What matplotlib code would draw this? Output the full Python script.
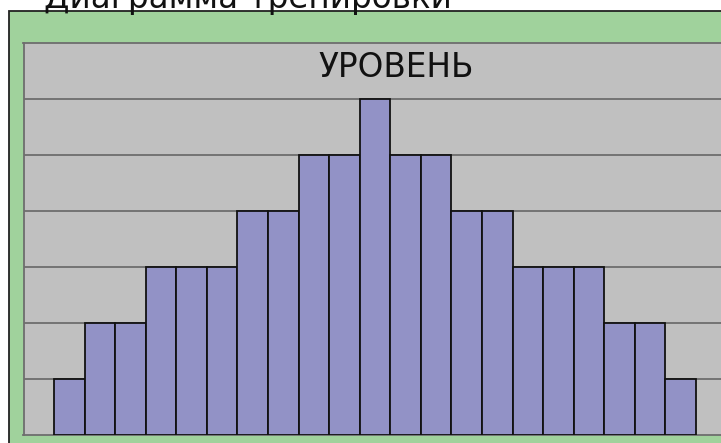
import numpy as np
import matplotlib.pyplot as plt
from matplotlib.patches import Rectangle

# Данные диаграммы
title = "Диаграмма тренировки"
label = "УРОВЕНЬ"
levels = [1, 2, 2, 3, 3, 3, 4, 4, 5, 5, 6, 5, 5, 4, 4, 3, 3, 3, 2, 2, 1]
ymax = 7

W, H = 721, 443
fig = plt.figure(figsize=(W / 100, H / 100), dpi=100)
fig.patch.set_facecolor('white')

# Зелёная рамка (уходит за правый и нижний край)
frame = Rectangle((8.5 / W, -0.1), 1.2, 1 - 11 / H + 0.1,
                  transform=fig.transFigure, facecolor='#a0d29c',
                  edgecolor='#222222', linewidth=1.3, zorder=-5)
fig.patches.append(frame)

# Область графика
ax = fig.add_axes([23.5 / W, 1 - 435 / H, 703 / W, 392 / H])
ax.set_zorder(2)
ax.set_facecolor('#c0c0c0')

x = np.arange(len(levels))
ax.bar(x, levels, width=1, align='edge', color='#9292c6',
       edgecolor='#111111', linewidth=1.3, zorder=3)

ax.set_xlim(-1, len(levels) + 1)
ax.set_ylim(0, ymax)
ax.set_yticks(np.arange(1, ymax))
ax.yaxis.grid(True, color='#6e6e6e', linewidth=1.3, zorder=1)
ax.set_axisbelow(True)
ax.tick_params(left=False, bottom=False, labelleft=False, labelbottom=False)
for s in ['top', 'left', 'bottom']:
    ax.spines[s].set_color('#6e6e6e')
    ax.spines[s].set_linewidth(1.3)
ax.spines['right'].set_visible(False)

# Подписи
fig.text(396 / W, 1 - 77 / H, label, ha='center', va='baseline',
         fontsize=23.5, family='DejaVu Sans', color='#111111', zorder=5)
fig.text(248 / W, 1 - 8 / H, title, ha='center', va='baseline',
         fontsize=23.5, family='DejaVu Sans', color='#111111')

fig.savefig('out.png', dpi=100)
